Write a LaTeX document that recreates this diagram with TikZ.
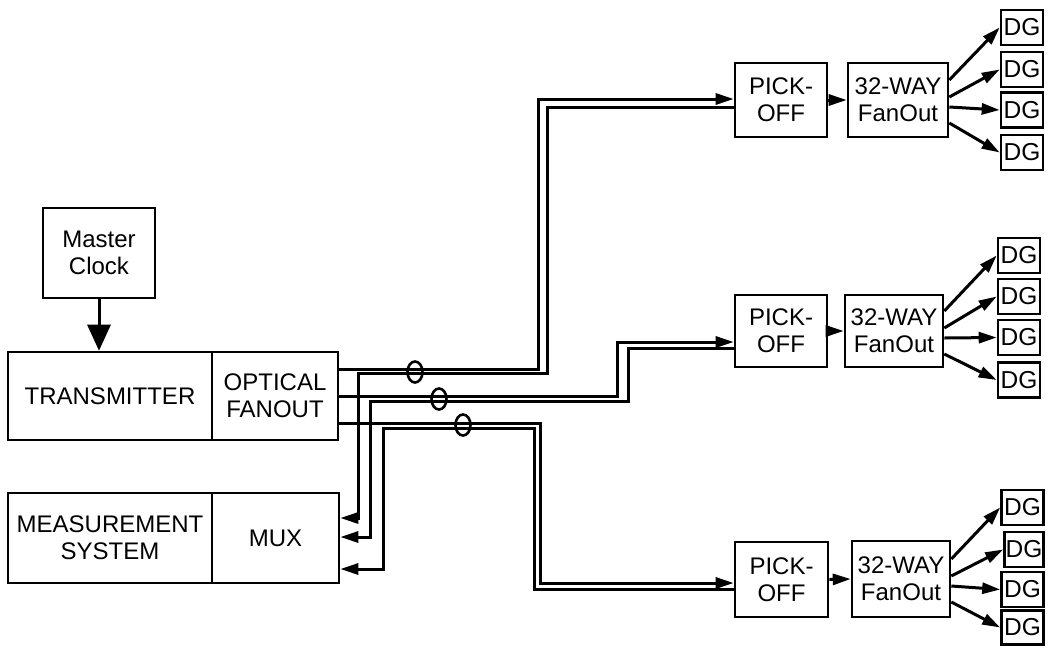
\documentclass[tikz,border=0pt]{standalone}
\usepackage{fontspec}
\setmainfont{Liberation Sans}
\usetikzlibrary{arrows.meta,shapes.geometric}
\begin{document}
\begin{tikzpicture}[x=1pt,y=-1pt,
  box/.style={draw,line width=2.6pt,rectangle,inner sep=0pt,align=center,font=\fontsize{24}{27}\selectfont},
  dg/.style={draw,line width=2.6pt,rectangle,minimum width=42pt,minimum height=35pt,inner sep=0pt,font=\fontsize{24.5}{24}\selectfont},
  arr/.style={line width=3pt,-{Triangle[length=18pt,width=11pt]}},
  knot/.style={draw,ellipse,line width=2.6pt,minimum width=15pt,minimum height=21pt,inner sep=0pt}]
\useasboundingbox (0,0) rectangle (1050,646);

% left blocks
\node[box,minimum width=112pt,minimum height=90pt] (clk) at (99,253) {Master\\Clock};
\node[box,minimum width=204pt,minimum height=88pt] (tx) at (110,396) {TRANSMITTER};
\node[box,minimum width=126pt,minimum height=88pt] (fan) at (275,396) {OPTICAL\\FANOUT};
\node[box,minimum width=204pt,minimum height=90pt] (ms) at (110,538) {MEASUREMENT\\SYSTEM};
\node[box,minimum width=127pt,minimum height=90pt] (mux) at (275.5,538) {MUX};

\draw[line width=3pt,-{Triangle[length=26pt,width=23pt]}] (clk.south) -- (clk.south |- tx.north);

% pick-offs and fanouts
\node[box,minimum width=92pt,minimum height=74pt] (po1) at (781,100) {PICK-\\OFF};
\node[box,minimum width=100pt,minimum height=74pt] (w1) at (898,100) {32-WAY\\FanOut};
\node[box,minimum width=92pt,minimum height=72pt] (po2) at (781,331) {PICK-\\OFF};
\node[box,minimum width=98pt,minimum height=72pt] (w2) at (894,331) {32-WAY\\FanOut};
\node[box,minimum width=93pt,minimum height=75pt] (po3) at (781.5,579.5) {PICK-\\OFF};
\node[box,minimum width=98pt,minimum height=76pt] (w3) at (901,579) {32-WAY\\FanOut};

\draw[arr] (po1.east) -- (w1.west);
\draw[arr] (po2.east) -- (w2.west);
\draw[arr] (po3.east) -- (w3.west);

% DG boxes
\node[dg] (d11) at (1022,27.5) {DG};
\node[dg] (d12) at (1022,69.5) {DG};
\node[dg] (d13) at (1022,110) {DG};
\node[dg] (d14) at (1022,152.5) {DG};
\node[dg] (d21) at (1019,255.5) {DG};
\node[dg] (d22) at (1019,296.5) {DG};
\node[dg] (d23) at (1019,337.5) {DG};
\node[dg] (d24) at (1019,380) {DG};
\node[dg] (d31) at (1022.5,507.5) {DG};
\node[dg,minimum width=39pt] (d32) at (1024,549.5) {DG};
\node[dg] (d33) at (1022.5,589.5) {DG};
\node[dg,minimum height=34pt] (d34) at (1022.5,627.5) {DG};

\foreach \w/\d in {w1/d1,w2/d2,w3/d3}{
  \draw[arr] ([yshift=20pt]\w.east) -- (\d1.west);
  \draw[arr] ([yshift=3pt]\w.east) -- (\d2.west);
  \draw[arr] ([yshift=-7pt]\w.east) -- (\d3.west);
  \draw[arr] ([yshift=-23pt]\w.east) -- (\d4.west);
}

% fibre pairs: outgoing to pick-off, return to mux
\draw[arr] (fan.east |- 0,369) -| (538,99) -- (po1.west |- 0,99);
\draw[arr] (po1.west |- 0,107) -| (547,373) -| (358,518) -- (mux.east |- 0,518);

\draw[arr] (fan.east |- 0,396) -| (617,342) -- (po2.west |- 0,342);
\draw[arr] (po2.west |- 0,348) -| (628,401) -| (370,537) -- (mux.east |- 0,537);

\draw[arr] (fan.east |- 0,423) -| (540,583) -- (po3.west |- 0,583);
\draw[arr] (po3.west |- 0,589) -| (534,428) -| (383,569) -- (mux.east |- 0,569);

% fibre bundle markers
\node[knot] (k1) at (415,372) {};
\node[knot] (k2) at (439,399) {};
\node[knot] (k3) at (463,425) {};
\end{tikzpicture}
\end{document}
